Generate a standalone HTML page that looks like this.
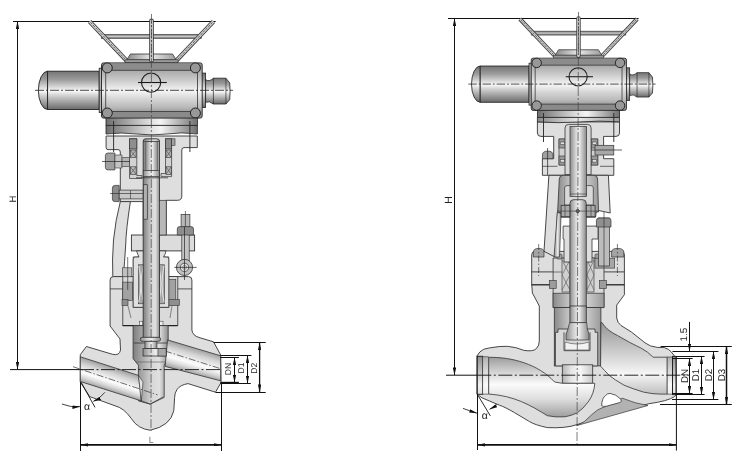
<!DOCTYPE html>
<html><head><meta charset="utf-8">
<style>
html,body{margin:0;padding:0;background:#fff;}
svg{display:block;}
text{text-rendering:geometricPrecision;}
text{font-family:"Liberation Sans",sans-serif;}
</style></head>
<body>
<svg style="will-change:transform" width="740" height="461" viewBox="0 0 740 461">
<defs>
<linearGradient id="gH" x1="0" y1="0" x2="0" y2="1">
<stop offset="0" stop-color="#767676"/><stop offset="0.22" stop-color="#9c9c9c"/><stop offset="0.46" stop-color="#e6e6e6"/><stop offset="0.52" stop-color="#f8f8f8"/><stop offset="0.62" stop-color="#d6d6d6"/><stop offset="0.8" stop-color="#a2a2a2"/><stop offset="1" stop-color="#6a6a6a"/>
</linearGradient>
<linearGradient id="gBody" x1="0" y1="0" x2="0" y2="1">
<stop offset="0" stop-color="#8c8c8c"/><stop offset="0.15" stop-color="#acacac"/><stop offset="0.3" stop-color="#c8c8c8"/><stop offset="0.47" stop-color="#ececec"/><stop offset="0.52" stop-color="#f2f2f2"/><stop offset="0.65" stop-color="#d6d6d6"/><stop offset="0.8" stop-color="#bababa"/><stop offset="0.9" stop-color="#9a9a9a"/><stop offset="1" stop-color="#888888"/>
</linearGradient>
<linearGradient id="gRim" x1="0" y1="0" x2="0" y2="1">
<stop offset="0" stop-color="#5e5e5e"/><stop offset="0.5" stop-color="#cccccc"/><stop offset="1" stop-color="#5a5a5a"/>
</linearGradient>
<linearGradient id="gV" x1="0" y1="0" x2="1" y2="0">
<stop offset="0" stop-color="#6e6e6e"/><stop offset="0.45" stop-color="#d8d8d8"/><stop offset="0.6" stop-color="#f4f4f4"/><stop offset="1" stop-color="#707070"/>
</linearGradient>
<linearGradient id="gV2" x1="0" y1="0" x2="1" y2="0">
<stop offset="0" stop-color="#8a8a8a"/><stop offset="0.5" stop-color="#e8e8e8"/><stop offset="1" stop-color="#9a9a9a"/>
</linearGradient>
<linearGradient id="gStem" x1="0" y1="0" x2="1" y2="0">
<stop offset="0" stop-color="#8c8c8c"/><stop offset="0.35" stop-color="#d6d6d6"/><stop offset="0.55" stop-color="#eeeeee"/><stop offset="1" stop-color="#8a8a8a"/>
</linearGradient>

<marker id="ah" markerUnits="userSpaceOnUse" markerWidth="8" markerHeight="3.4" refX="7.6" refY="1.7" orient="auto-start-reverse"><path d="M0,0 L8,1.7 L0,3.4 Z" fill="#111"/></marker>
<linearGradient id="gStem2" x1="0" y1="0" x2="1" y2="0">
<stop offset="0" stop-color="#7e7e7e"/><stop offset="0.25" stop-color="#a6a6a6"/><stop offset="0.55" stop-color="#d8d8d8"/><stop offset="0.75" stop-color="#e0e0e0"/><stop offset="1" stop-color="#8e8e8e"/>
</linearGradient>
<linearGradient id="gRing" x1="0" y1="0" x2="0" y2="1">
<stop offset="0" stop-color="#8e8e8e"/><stop offset="0.5" stop-color="#cfcfcf"/><stop offset="0.75" stop-color="#f2f2f2"/><stop offset="1" stop-color="#e0e0e0"/>
</linearGradient>
<linearGradient id="gRing2" x1="0" y1="0" x2="0" y2="1">
<stop offset="0" stop-color="#b0b0b0"/><stop offset="0.5" stop-color="#e4e4e4"/><stop offset="0.75" stop-color="#fafafa"/><stop offset="1" stop-color="#ececec"/>
</linearGradient>
<linearGradient id="gSeat" x1="0" y1="0" x2="1" y2="0">
<stop offset="0" stop-color="#b4b4b4"/><stop offset="0.3" stop-color="#e6e6e6"/><stop offset="0.6" stop-color="#f6f6f6"/><stop offset="1" stop-color="#c8c8c8"/>
</linearGradient>
<g id="act">
 <!-- handwheel -->
 <rect x="-50" y="-56" width="100" height="4.2" fill="url(#gRim)" stroke="#444" stroke-width="0.6"/>
 <path d="M-26.5,-30.5 H26.5" stroke="none"/>
 <g stroke-linecap="butt">
  <line x1="-61.9" y1="-68.8" x2="-24.8" y2="-29.6" stroke="#3c3c3c" stroke-width="4.4"/>
  <line x1="-61.9" y1="-68.8" x2="-24.8" y2="-29.6" stroke="#cfcfcf" stroke-width="2.6"/>
  <line x1="61.9" y1="-68.8" x2="24.8" y2="-29.6" stroke="#3c3c3c" stroke-width="4.4"/>
  <line x1="61.9" y1="-68.8" x2="24.8" y2="-29.6" stroke="#cfcfcf" stroke-width="2.6"/>
 </g>
 <path d="M-21,-36.3 H21 L24.7,-30.5 H-24.7 Z" fill="url(#gV2)" stroke="#333" stroke-width="0.8"/>
 <rect x="-26.5" y="-30.5" width="53" height="3.2" fill="#9a9a9a" stroke="#333" stroke-width="0.6"/>
 <g stroke-linecap="round">
  <line x1="0" y1="-69.5" x2="0" y2="-30" stroke="#3c3c3c" stroke-width="4.6"/>
  <line x1="0" y1="-69.5" x2="0" y2="-30" stroke="#d4d4d4" stroke-width="2.8"/>
 </g>
 <g stroke="#444" stroke-width="0.8" stroke-dasharray="2.5 1.2" fill="none">
  <line x1="-61" y1="-67.9" x2="-26" y2="-30.8"/>
  <line x1="61" y1="-67.9" x2="26" y2="-30.8"/>
  <line x1="0" y1="-69" x2="0" y2="-31"/>
 </g>
 <!-- motor -->
 <path d="M-103.9,-19.1 A9.2,19.15 0 0 0 -103.9,19.2 Z" fill="url(#gH)" stroke="#222" stroke-width="0.9"/>
 <rect x="-103.9" y="-19.1" width="51.6" height="38.3" fill="url(#gH)" stroke="#222" stroke-width="0.9"/>
 <rect x="-52.3" y="-22.1" width="2.6" height="44.3" fill="#b4b4b4" stroke="#222" stroke-width="0.8"/>
 <!-- right cap -->
 <rect x="50.2" y="-17.2" width="3.9" height="34.4" fill="url(#gH)" stroke="#222" stroke-width="0.8"/>
 <path d="M54.1,-10.7 Q57.6,-8 61.9,-12.1 H74.4 L78.2,-7.4 Q79,1 78.2,9.4 L74.4,13.7 H61.9 Q57.6,10 54.1,12.1 Z" fill="url(#gH)" stroke="#222" stroke-width="0.8"/>
 <line x1="61.9" y1="-12.1" x2="61.9" y2="13.7" stroke="#222" stroke-width="0.7"/>
 <line x1="74.4" y1="-12.1" x2="74.4" y2="13.7" stroke="#222" stroke-width="0.6"/>
 <!-- body -->
 <rect x="-50" y="-27.4" width="100.7" height="55.2" rx="2" fill="url(#gBody)" stroke="#222" stroke-width="0.9"/>
 <rect x="-44" y="-27" width="88.7" height="7" fill="#8c8c8c"/>
 <rect x="-44" y="21.2" width="88.7" height="6.2" fill="#8a8a8a"/>
 <line x1="-45" y1="-20" x2="45.7" y2="-20" stroke="#333" stroke-width="0.8"/>
 <line x1="-45" y1="21.2" x2="45.7" y2="21.2" stroke="#333" stroke-width="0.8"/>
 <line x1="-45.8" y1="-20" x2="-45.8" y2="20" stroke="#333" stroke-width="0.8"/>
 <line x1="46" y1="-20" x2="46" y2="20" stroke="#333" stroke-width="0.8"/>
 <g fill="#989898" stroke="#222" stroke-width="1">
  <circle cx="-44.2" cy="-22.4" r="5"/><circle cx="43.9" cy="-22.4" r="5"/>
  <circle cx="-44.2" cy="22.7" r="5"/><circle cx="43.9" cy="22.7" r="5"/>
 </g>
 <circle cx="-0.4" cy="-7.7" r="9.6" fill="none" stroke="#1a1a1a" stroke-width="1.1"/>
 <line x1="-13.5" y1="-7.8" x2="15.3" y2="-7.8" stroke="#1a1a1a" stroke-width="1.1"/>
 <!-- centerlines -->
 <g stroke="#222" stroke-width="0.8" stroke-dasharray="9 2 2 2" fill="none">
  <line x1="-116.5" y1="0" x2="81.5" y2="0"/>
 </g>
</g>
<g id="actfl">
 <rect x="-45.5" y="27.8" width="91.4" height="7.3" fill="url(#gV)" stroke="#222" stroke-width="0.8"/>
 <path d="M-45.5,35.1 H45.9 V43.7 Q30,41.5 15,43.7 Q0,45.5 -15,43.7 Q-30,41.8 -45.5,43.7 Z" fill="url(#gV)" stroke="#222" stroke-width="0.8"/>
</g>
</defs>

<!-- ============ LEFT VALVE ============ -->
<defs>
<linearGradient id="lBoreL" gradientUnits="userSpaceOnUse" x1="0" y1="0" x2="0" y2="1" gradientTransform="translate(110,378.65) rotate(17.7) translate(0,-11.76) scale(1,23.5)">
<stop offset="0" stop-color="#a0a0a0"/><stop offset="0.25" stop-color="#d2d2d2"/><stop offset="0.5" stop-color="#f2f2f2"/><stop offset="0.62" stop-color="#fcfcfc"/><stop offset="0.82" stop-color="#d6d6d6"/><stop offset="1" stop-color="#a4a4a4"/>
</linearGradient>
<linearGradient id="lBoreR" gradientUnits="userSpaceOnUse" x1="0" y1="0" x2="0" y2="1" gradientTransform="translate(193,360.5) rotate(16) translate(0,-12.5) scale(1,25)">
<stop offset="0" stop-color="#a0a0a0"/><stop offset="0.25" stop-color="#d2d2d2"/><stop offset="0.5" stop-color="#f2f2f2"/><stop offset="0.62" stop-color="#fcfcfc"/><stop offset="0.82" stop-color="#d6d6d6"/><stop offset="1" stop-color="#a4a4a4"/>
</linearGradient>
</defs>
<line x1="13" y1="21.5" x2="215.7" y2="21.5" stroke="#111" stroke-width="1"/>
<line x1="17.5" y1="21.5" x2="17.5" y2="369.3" stroke="#111" stroke-width="1" marker-start="url(#ah)" marker-end="url(#ah)"/>
<line x1="10" y1="369.6" x2="80" y2="369.6" stroke="#111" stroke-width="1"/>

<!-- yoke upper -->
<path d="M106.1,136 H197.3 V147.6 H184 Q181.8,147.6 181.8,150 V196 Q181.8,200.3 177.5,200.3 H166.2 V235 H143.2 V201.6 H120.3 V152 Q120.3,149.6 118,149.6 H108 Q106.1,149.6 106.1,147.6 Z" fill="#dedede" stroke="#333" stroke-width="0.9"/>
<!-- housing internals -->
<path d="M129.5,138.8 H136.8 V175.5 H141.9 V178.5 H129.5 Z" fill="#d2d2d2" stroke="#333" stroke-width="0.7"/>
<path d="M165.5,138.8 H171.6 V176.6 H161 V173.5 H165.5 Z" fill="#d2d2d2" stroke="#333" stroke-width="0.7"/>
<rect x="129.5" y="138.8" width="7.3" height="10.1" fill="#8e8e8e" stroke="#333" stroke-width="0.7"/>
<rect x="165.5" y="138.8" width="6.1" height="10.1" fill="#8e8e8e" stroke="#333" stroke-width="0.7"/>
<rect x="171.6" y="138.8" width="3.4" height="6.5" fill="#a0a0a0" stroke="#333" stroke-width="0.6"/>
<g fill="#b8b8b8" stroke="#333" stroke-width="0.6">
<rect x="130.3" y="150" width="5.8" height="7.5"/><rect x="130.3" y="166.8" width="5.8" height="7.5"/>
<rect x="166" y="150" width="5.2" height="7.5"/><rect x="166" y="166.8" width="5.2" height="7.5"/>
</g>
<g stroke="#333" stroke-width="0.5">
<path d="M130.3,150 l5.8,7.5 M136.1,150 l-5.8,7.5 M130.3,166.8 l5.8,7.5 M136.1,166.8 l-5.8,7.5 M166,150 l5.2,7.5 M171.2,150 l-5.2,7.5 M166,166.8 l5.2,7.5 M171.2,166.8 l-5.2,7.5"/>
</g>
<!-- pinion -->
<path d="M105.4,155.5 Q105.4,153 108,153 H114.9 V169.9 H108 Q105.4,169.9 105.4,167.4 Z" fill="#a0a0a0" stroke="#333" stroke-width="0.7"/>
<path d="M114.9,155 H122 V168 H114.9 Z" fill="#c4c4c4" stroke="#333" stroke-width="0.6"/>
<rect x="122" y="157.7" width="7.5" height="8.8" fill="#b4b4b4" stroke="#333" stroke-width="0.6"/>
<line x1="102" y1="161.5" x2="130" y2="161.5" stroke="#222" stroke-width="0.7"/>
<!-- left arm -->
<path d="M120.3,201.6 H130.4 Q126,230 125.7,245 Q124.5,262 123.5,276.6 H112.8 Q112,260 113.5,240 Q115.5,220 120.3,201.6 Z" fill="#dedede" stroke="#333" stroke-width="0.9"/>
<!-- bolt through yoke -->
<path d="M112.4,188 Q112.4,185.4 115,185.4 H119.2 V201.6 H115 Q112.4,201.6 112.4,199 Z" fill="#8c8c8c" stroke="#333" stroke-width="0.7"/>
<rect x="119.2" y="190.1" width="24" height="8.8" fill="#c8c8c8" stroke="#333" stroke-width="0.7"/>
<line x1="110" y1="193.5" x2="145" y2="193.5" stroke="#222" stroke-width="0.6"/>
<line x1="130.5" y1="190.1" x2="130.5" y2="198.9" stroke="#333" stroke-width="0.6"/>

<!-- body + bonnet section -->
<path d="M110.1,280 Q110.1,276.6 113.5,276.6 H188.5 Q191.9,276.6 191.9,280 V330 Q192.5,335.5 199,337.5 L213.5,341.8 L220.7,355 L221.1,382.4 L215.5,392.2 L188,383.6 Q180,385 177,389.5 Q174.6,393 174.6,397.6 L173.8,410.7 Q170.5,426 150.2,430.2 Q138,429 131.5,418.8 Q124,408 115,405.8 L89.7,396.6 L80.3,382.2 V354.7 L86.4,346.5 L112.5,354.3 Q119.5,356 120.5,350 L120,339 L110.1,326 Z" fill="#dedede" stroke="#333" stroke-width="0.9"/>
<line x1="110.1" y1="288.9" x2="125.7" y2="288.9" stroke="#333" stroke-width="0.8"/>
<line x1="177.7" y1="288.9" x2="191.9" y2="288.9" stroke="#333" stroke-width="0.8"/>

<!-- bonnet bore -->
<rect x="122.8" y="276.6" width="55" height="49" fill="#dadada" stroke="#333" stroke-width="0.8"/>
<rect x="133.2" y="257" width="35.6" height="50.3" fill="#e0e0e0" stroke="#333" stroke-width="0.7"/>
<rect x="122.8" y="282.1" width="9.6" height="18.3" fill="#a2a2a2" stroke="#333" stroke-width="0.6"/>
<rect x="122" y="299.5" width="6" height="6.1" fill="#8e8e8e" stroke="#333" stroke-width="0.6"/>
<rect x="168" y="279.5" width="7.8" height="20.9" fill="#a2a2a2" stroke="#333" stroke-width="0.6"/>
<rect x="168" y="299.5" width="11.3" height="6.1" fill="#8e8e8e" stroke="#333" stroke-width="0.6"/>
<path d="M128,306 L131,318 M172,306 L170,318" stroke="#444" stroke-width="0.6"/>
<rect x="139.3" y="321.2" width="3.5" height="4.4" fill="#f0f0f0" stroke="#333" stroke-width="0.5"/>
<rect x="159.5" y="321.2" width="3.5" height="4.4" fill="#f0f0f0" stroke="#333" stroke-width="0.5"/>
<line x1="122.8" y1="325.6" x2="177.5" y2="325.6" stroke="#222" stroke-width="1.4"/>
<!-- chamber -->
<path d="M133.1,325.6 H168.2 V358.7 L164.2,365.2 V397.4 L150.2,404.1 L138.4,400.9 V365.2 L133.1,358.7 Z" fill="url(#gStem2)" stroke="#333" stroke-width="0.8"/>
<line x1="133.8" y1="343" x2="167.9" y2="343" stroke="#333" stroke-width="0.8"/>
<line x1="136" y1="362" x2="166" y2="362" stroke="#555" stroke-width="0.6"/>
<!-- left port bore -->
<path d="M80.3,356.8 L138.5,375.4 L141.3,400.9 L80.3,381.5 Z" fill="url(#lBoreL)" stroke="#333" stroke-width="0.8"/>
<path d="M138.5,375.4 L143,382 L141.3,400.9 Z" fill="#e4e4e4" stroke="#333" stroke-width="0.6"/>
<path d="M141.3,400.9 L150.2,404.1 L163.3,396.8" fill="none" stroke="#333" stroke-width="0.7"/>
<!-- right port bore -->
<path d="M167.5,339.9 L220.6,355.8 L220.6,380.8 L165.2,366.4 Z" fill="url(#lBoreR)" stroke="#333" stroke-width="0.8"/>
<g stroke="#333" stroke-width="0.7" stroke-dasharray="7 2 1.5 2" fill="none">
<line x1="73" y1="366.7" x2="157.6" y2="394.9"/>
<line x1="165" y1="351" x2="220" y2="368.5"/>
</g>

<!-- gland flange -->
<rect x="131.4" y="235" width="63.2" height="15.9" fill="#dcdcdc" stroke="#333" stroke-width="0.9"/>
<!-- gland body -->
<path d="M133.2,307.3 V259 Q133.2,257 135.5,257 H139 Q137.5,254 136.5,250.9 H166 Q165.5,254 163.5,257 H166.5 Q168.8,257 168.8,259 V307.3 Z" fill="#e0e0e0" stroke="#333" stroke-width="0.8"/>
<rect x="138.4" y="264.8" width="5.3" height="39" fill="#a8a8a8" stroke="#333" stroke-width="0.6"/>
<rect x="158.4" y="264.8" width="6.1" height="39" fill="#a8a8a8" stroke="#333" stroke-width="0.6"/>
<path d="M138.8,266 Q143,284 138.8,302 M143.3,266 Q139,284 143.3,302 M158.8,266 Q163,284 158.8,302 M164,266 Q160,284 164,302" stroke="#e8e8e8" stroke-width="0.9" fill="none"/>
<!-- right stud + nut -->
<rect x="181.1" y="214.5" width="8.8" height="13" fill="#b8b8b8" stroke="#333" stroke-width="0.7"/>
<line x1="185.4" y1="211" x2="185.4" y2="244" stroke="#222" stroke-width="0.6"/>
<!-- eye bolt -->
<rect x="181.8" y="227" width="7.4" height="34" fill="#c4c4c4" stroke="#333" stroke-width="0.7"/>
<path d="M177.3,235 V229 Q177.3,226.6 180,226.6 H191 Q193.5,226.6 193.5,229 V235 Z" fill="#8e8e8e" stroke="#333" stroke-width="0.7"/>
<circle cx="184.5" cy="267.4" r="8.1" fill="#c0c0c0" stroke="#333" stroke-width="0.8"/>
<circle cx="184.5" cy="267.4" r="4.2" fill="#e4e4e4" stroke="#333" stroke-width="0.7"/>
<line x1="174.3" y1="267.4" x2="196.6" y2="267.4" stroke="#222" stroke-width="0.7"/>
<line x1="184.5" y1="227" x2="184.5" y2="280" stroke="#222" stroke-width="0.7"/>
<circle cx="184.5" cy="267.4" r="2" fill="none" stroke="#444" stroke-width="0.5"/>
<!-- left stud -->
<rect x="122.3" y="267.8" width="9.5" height="9" fill="#c0c0c0" stroke="#333" stroke-width="0.6"/>
<line x1="127.7" y1="257" x2="127.7" y2="290" stroke="#222" stroke-width="0.6"/>

<!-- stem -->
<path d="M143.2,337.5 V141 Q143.2,138.8 146,138.8 H156.7 Q159.5,138.8 159.5,141 V337.5 Z" fill="url(#gStem2)" stroke="#333" stroke-width="0.9"/>
<rect x="145.8" y="141.5" width="11.7" height="29" fill="url(#gStem)" stroke="#444" stroke-width="0.5"/>
<line x1="143.2" y1="141.5" x2="159.5" y2="141.5" stroke="#333" stroke-width="0.6"/>
<rect x="143.2" y="170.5" width="16.3" height="6.1" fill="url(#gStem)" stroke="#333" stroke-width="0.7"/>
<line x1="136" y1="177.8" x2="168" y2="177.8" stroke="#333" stroke-width="0.8"/>
<rect x="143.5" y="184.7" width="3.8" height="34.5" fill="#b0b0b0" stroke="#333" stroke-width="0.7"/>
<rect x="159.5" y="200.3" width="6.7" height="34.7" fill="#b8b8b8" stroke="#333" stroke-width="0.7"/>
<rect x="144.9" y="341" width="12" height="7.6" fill="url(#gStem)" stroke="#333" stroke-width="0.7"/>
<rect x="140.3" y="337.3" width="20.3" height="4" rx="1.8" fill="url(#gStem)" stroke="#333" stroke-width="0.8"/>
<rect x="143" y="348.6" width="23.1" height="7.4" fill="url(#gStem)" stroke="#333" stroke-width="0.8"/>
<rect x="158" y="348.6" width="8.1" height="7.4" fill="#a8a8a8" stroke="#333" stroke-width="0.6"/>

<!-- actuator -->
<use href="#act" transform="translate(151.5,90.3)"/>
<use href="#actfl" transform="translate(151.5,90.3)"/>
<g stroke="#222" stroke-width="0.8">
<line x1="113.6" y1="121" x2="113.6" y2="152" stroke-width="0.9"/><line x1="189.9" y1="121" x2="189.9" y2="152" stroke-width="0.9"/>
</g>
<g stroke="#222" stroke-width="0.6" stroke-dasharray="6 2 1.5 2">

</g>

<!-- vertical centerline -->
<line x1="151.5" y1="14" x2="151" y2="431" stroke="#444" stroke-width="0.7" stroke-dasharray="9 2 2 2"/>
<!-- horizontal centerline at body -->
<line x1="80" y1="369.6" x2="222" y2="369.6" stroke="#111" stroke-width="0.9" stroke-dasharray="14 2.5 2 2.5"/>

<!-- dimension lines right -->
<g stroke="#111" stroke-width="1">
<line x1="213.7" y1="342.5" x2="265.7" y2="342.5"/>
<line x1="220.4" y1="355.5" x2="251.4" y2="355.5"/>
<line x1="220.4" y1="357.5" x2="238.9" y2="357.5"/>
<line x1="220.4" y1="382.6" x2="238.9" y2="382.6" stroke-width="1.6"/>
<line x1="220.4" y1="383.5" x2="250.8" y2="383.5"/>
<line x1="215.5" y1="392.5" x2="265.7" y2="392.5"/>
<line x1="234.5" y1="357.7" x2="234.5" y2="382.2" marker-start="url(#ah)" marker-end="url(#ah)"/>
<line x1="247.5" y1="355.7" x2="247.5" y2="383.2" marker-start="url(#ah)" marker-end="url(#ah)"/>
<line x1="259.6" y1="342.8" x2="259.6" y2="392" stroke-width="1.3" marker-start="url(#ah)" marker-end="url(#ah)"/>
<line x1="80.5" y1="382" x2="80.5" y2="451"/>
<line x1="221.5" y1="382" x2="221.5" y2="451"/>
<line x1="80.8" y1="444.8" x2="221.2" y2="444.8" stroke-width="1.8" marker-start="url(#ah)" marker-end="url(#ah)"/>
<line x1="81.1" y1="382.2" x2="95" y2="407.4" stroke-width="0.9"/>
</g>
<path d="M104.9,392.3 Q100,398.5 93.4,401.3" stroke="#111" stroke-width="0.8" fill="none" marker-end="url(#ah)"/>
<path d="M61.9,404 Q70,407.5 79.9,406.6" stroke="#111" stroke-width="0.8" fill="none" marker-end="url(#ah)"/>
<g font-size="8.5" fill="#222" text-anchor="middle">
<text transform="translate(230.8,369) rotate(-90)">DN</text>
<text transform="translate(244.2,368) rotate(-90)">D1</text>
<text transform="translate(257.4,368.3) rotate(-90)">D2</text>
</g>
<text transform="translate(15.9,199) rotate(-90)" font-size="9.5" fill="#222" text-anchor="middle">H</text>
<text x="151.2" y="443.2" font-size="9" fill="#777" text-anchor="middle">L</text>
<text x="87.1" y="409.9" font-size="10.5" fill="#111" text-anchor="middle">α</text>

<!-- ============ RIGHT VALVE ============ -->
<defs>
<linearGradient id="rIn" gradientUnits="userSpaceOnUse" x1="0" y1="357" x2="0" y2="418">
<stop offset="0" stop-color="#9c9c9c"/><stop offset="0.25" stop-color="#d4d4d4"/><stop offset="0.45" stop-color="#fbfbfb"/><stop offset="0.7" stop-color="#dcdcdc"/><stop offset="1" stop-color="#9a9a9a"/>
</linearGradient>
<linearGradient id="rOut" gradientUnits="userSpaceOnUse" x1="0" y1="325" x2="0" y2="395">
<stop offset="0" stop-color="#9a9a9a"/><stop offset="0.35" stop-color="#c8c8c8"/><stop offset="0.7" stop-color="#f6f6f6"/><stop offset="1" stop-color="#bdbdbd"/>
</linearGradient>
</defs>
<line x1="448" y1="18.5" x2="638.6" y2="18.5" stroke="#111" stroke-width="1"/>
<line x1="454.5" y1="18.6" x2="454.5" y2="375" stroke="#111" stroke-width="1" marker-start="url(#ah)" marker-end="url(#ah)"/>

<!-- body + bonnet flange -->
<path d="M531.7,255 Q531.7,251.4 535,251.4 H621 Q624.4,251.4 624.4,255 V294.7 L616.7,305.1 V318.1 Q617.5,323 621,325.5 L631.4,332 L640.1,338.9 Q645,343.5 650.5,345.9 Q657,348 664.3,347.6 Q669,349 671.3,351.9 L674.7,356.3 L676.3,357 V394.6 L674.2,396.8 Q668,401 648.4,403.8 L577,424.6 Q566,428.5 547.3,427.6 Q535,425 529.5,421.6 L514.6,412.7 Q505,407 499.7,405.3 L481.9,397.8 L476.9,394 V356 L479.8,352 Q483,348.5 489.5,347.9 Q500,346 507.4,346.3 Q516,347 523.7,350.3 Q533,352 536.5,348.5 Q539.3,345.5 539.3,341 L539.3,306 L532.4,293 L531.7,284.4 Z" fill="#dedede" stroke="#333" stroke-width="0.9"/>
<g stroke="#222" stroke-width="0.8">
<line x1="531.5" y1="271.9" x2="553.1" y2="271.9"/><line x1="604" y1="271.9" x2="624.4" y2="271.9"/>
<line x1="531.5" y1="284.8" x2="551" y2="284.8" stroke-width="1.3"/><line x1="604" y1="284.8" x2="624.4" y2="284.8" stroke-width="1.3"/>
</g>
<path d="M533.4,257 V252 Q533.4,248.4 538.7,248.4 Q544,248.4 544,252 V257 Z" fill="#a4a4a4" stroke="#333" stroke-width="0.7"/>
<path d="M611.6,257 V252 Q611.6,248.4 617.7,248.4 Q623.8,248.4 623.8,252 V257 Z" fill="#a4a4a4" stroke="#333" stroke-width="0.7"/>
<g stroke="#222" stroke-width="0.6" stroke-dasharray="6 2 1.5 2">
<line x1="538.7" y1="244" x2="538.7" y2="276"/><line x1="617.4" y1="244" x2="617.4" y2="276"/>
</g>

<!-- bonnet bore / packing -->
<path d="M553.1,258 H604 V307.6 H553.1 Z" fill="#d8d8d8" stroke="#333" stroke-width="0.8"/>
<rect x="553.1" y="293.2" width="50.9" height="14.4" fill="url(#gV2)" stroke="#333" stroke-width="0.7"/>
<rect x="562" y="258" width="8" height="34" fill="#cfcfcf" stroke="#333" stroke-width="0.6"/>
<rect x="587" y="258" width="7" height="34" fill="#cfcfcf" stroke="#333" stroke-width="0.6"/>
<path d="M562,260 L570,275 L562,290 M570,260 L562,275 L570,290 M587,260 L594,275 L587,290 M594,260 L587,275 L594,290" stroke="#555" stroke-width="0.6" fill="none"/>
<rect x="557" y="254" width="5" height="5" rx="1" fill="#a0a0a0" stroke="#333" stroke-width="0.6"/>
<rect x="595" y="254" width="5" height="5" rx="1" fill="#a0a0a0" stroke="#333" stroke-width="0.6"/>
<rect x="549.3" y="280.3" width="6.9" height="8.3" fill="#9c9c9c" stroke="#333" stroke-width="0.6"/>
<rect x="599.5" y="280.3" width="6.8" height="8.3" fill="#9c9c9c" stroke="#333" stroke-width="0.6"/>
<rect x="594.9" y="258.2" width="19.8" height="9.9" fill="#a6a6a6" stroke="#333" stroke-width="0.6"/>
<line x1="553.1" y1="272" x2="562" y2="272" stroke="#333" stroke-width="0.6"/>
<!-- upper bonnet -->
<path d="M537.4,121.9 H619.5 V133 Q619.5,136.4 616,136.4 H603.6 V158.7 H613.8 V175.3 H542.4 V158.7 H553.7 V136.4 H541 Q537.4,136.4 537.4,133 Z" fill="#dedede" stroke="#333" stroke-width="0.9"/>
<line x1="542.4" y1="166.3" x2="557.5" y2="166.3" stroke="#333" stroke-width="0.7"/><line x1="600" y1="166.3" x2="613.8" y2="166.3" stroke="#333" stroke-width="0.7"/>
<path d="M559,139 H566 V165 H559 Z" fill="#d0d0d0" stroke="#333" stroke-width="0.7"/>
<path d="M591.1,139 H597.8 V165 H591.1 Z" fill="#d0d0d0" stroke="#333" stroke-width="0.7"/>
<g fill="#9a9a9a" stroke="#333" stroke-width="0.6">
<rect x="559" y="139" width="7" height="9"/><rect x="559" y="156" width="7" height="9"/>
<rect x="591.1" y="139" width="6.7" height="9"/><rect x="591.1" y="156" width="6.7" height="9"/>
</g>
<g fill="#e0e0e0" stroke="#333" stroke-width="0.5">
<rect x="560.2" y="142" width="4.6" height="2.6"/><rect x="560.2" y="159.5" width="4.6" height="2.6"/>
<rect x="592.2" y="142" width="4.5" height="2.6"/><rect x="592.2" y="159.5" width="4.5" height="2.6"/>
</g>
<!-- small bolt left & right of upper bonnet -->
<path d="M542.4,158.7 V155 Q542.4,151.1 547.7,151.1 Q553,151.1 553,155 V158.7 Z" fill="#a0a0a0" stroke="#333" stroke-width="0.7"/>
<rect x="595" y="145.3" width="18.8" height="9.7" fill="#a8a8a8" stroke="#333" stroke-width="0.7"/>
<line x1="590" y1="150" x2="622" y2="150" stroke="#222" stroke-width="0.7"/>
<g stroke="#222" stroke-width="0.7" stroke-dasharray="6 2 1.5 2">

</g>

<!-- yoke -->
<path d="M548.9,175.3 H608.4 L610.2,213 L596.4,210 L595.6,217.2 H559.8 L557.4,212.3 L555,257 L544,251.3 Z" fill="#dedede" stroke="#333" stroke-width="0.9"/>
<path d="M557.6,212.5 L559.3,179 Q559.5,175.3 563,175.3 H594 Q597.4,175.3 597.6,179 L598.5,212 Z" fill="url(#gV2)" stroke="#333" stroke-width="0.8"/>
<path d="M564.6,205 V188 Q564.6,185.6 567,185.6 H591 Q593.3,185.6 593.3,188 V205 Z" fill="#d8d8d8" stroke="#333" stroke-width="0.7"/>
<path d="M557.4,212.3 L561.1,213.5 L559.5,257 L554,257 Z" fill="url(#gV2)" stroke="#333" stroke-width="0.7"/>

<!-- stems -->
<path d="M565,174.6 V128 Q565,124.4 568.5,124.4 H587.6 Q591.1,124.4 591.1,128 V174.6 Z" fill="#d8d8d8" stroke="#333" stroke-width="0.8"/>
<rect x="570" y="126.5" width="16.5" height="70" fill="url(#gStem)" stroke="#333" stroke-width="0.7"/>
<line x1="570" y1="194" x2="586.5" y2="194" stroke="#333" stroke-width="0.6"/>

<!-- gland -->
<path d="M563.1,226.1 H598 V239 H592 V262 H564 V239 H563.1 Z" fill="#dedede" stroke="#333" stroke-width="0.8"/>
<!-- stud with nut on right -->
<rect x="598.5" y="218" width="11" height="48" fill="#bcbcbc" stroke="#333" stroke-width="0.7"/>
<path d="M596.4,220.5 Q596.4,218 599,218 H608.5 Q611,218 611,220.5 V227 H596.4 Z" fill="#909090" stroke="#333" stroke-width="0.7"/>
<line x1="604" y1="212" x2="604" y2="268" stroke="#222" stroke-width="0.6"/>
<path d="M569.9,322.6 V203.5 Q569.9,199.7 573.5,199.7 H582.7 Q586.3,199.7 586.3,203.5 V322.6 Z" fill="url(#gStem)" stroke="#333" stroke-width="0.8"/>
<rect x="561.1" y="205.3" width="8.8" height="11.4" fill="#aaaaaa" stroke="#333" stroke-width="0.8"/>
<rect x="586.3" y="205.3" width="8.8" height="11.4" fill="#aaaaaa" stroke="#333" stroke-width="0.8"/>
<g stroke="#333" stroke-width="0.6"><line x1="565" y1="205.3" x2="565" y2="216.7"/><line x1="591" y1="205.3" x2="591" y2="216.7"/><line x1="557" y1="211.1" x2="598" y2="211.1"/></g>
<circle cx="577.7" cy="211.1" r="1.7" fill="#777" stroke="#222" stroke-width="0.7"/>

<!-- lower chamber -->
<rect x="554.3" y="307.6" width="46.6" height="58.3" fill="url(#gV2)" stroke="#333" stroke-width="0.8"/>
<!-- outlet passage -->
<path d="M600.9,322.5 H601.9 Q604.5,327 608.9,330.3 Q613,333.5 617.5,335.5 L629.7,342.4 L641.8,348.5 Q648,352 652.2,356.3 L653,357.2 H667.2 V394.1 H660 Q652,394 643.5,392.1 Q633,389 624,385.2 Q614,379.4 609.4,375.5 Q604.5,370.6 600.6,366.2 Z" fill="url(#rOut)" stroke="#333" stroke-width="0.8"/>
<rect x="569.9" y="306" width="16.4" height="16.6" fill="url(#gStem)" stroke="#333" stroke-width="0.8"/>
<!-- disc -->
<path d="M555.4,365.9 V332.3 H558 V329 H569 V332.3 H587 V329 H595 V332.3 H597.7 V365.9 Z" fill="#d8d8d8" stroke="#333" stroke-width="0.8"/>
<path d="M564,332.3 V350.7 H590 V332.3" fill="none" stroke="#333" stroke-width="0.8"/>
<path d="M565,342 Q577,346 589,342 V350 H565 Z" fill="#f2f2f2" stroke="#444" stroke-width="0.6"/>
<path d="M569.6,322.6 Q568,330 566,334 V340 H589 V334 Q587,330 586.7,322.6 Z" fill="url(#gStem)" stroke="#333" stroke-width="0.7"/>
<!-- seat bore -->
<rect x="562.3" y="364.8" width="30.4" height="18.5" fill="url(#gSeat)" stroke="#333" stroke-width="0.8"/>
<!-- inlet passage -->
<path d="M488.7,357.3 C512,357 538,364 554.6,382 L562.3,383.3 H592.7 L594.8,383.3 Q594,394 588.2,401.9 Q583,409 577.3,412.8 Q572,415.5 565.1,416.8 Q556,417.5 547.3,415.7 C530,405 515,396 488.7,394 Z" fill="url(#rIn)" stroke="#333" stroke-width="0.8"/>
<!-- web -->
<path d="M576.7,425.6 L647.9,405.5 Q635,403.5 622.3,398.2 L606.5,406.2 Q601,408 597.5,410 Q592,414 584.6,421.4 Z" fill="#b2b2b2" stroke="#333" stroke-width="0.7"/>
<path d="M601.6,405.5 Q602,398 605.3,395.8 Q607,393.4 610.1,393.4 Q616,394 621.1,399.5 Q622,402 619.9,402.5 L606.5,406.2 Q603,407 601.6,405.5 Z" fill="#fff" stroke="#333" stroke-width="0.8"/>
<!-- end rings -->
<rect x="477.3" y="356.3" width="5.4" height="38" fill="url(#gRing)" stroke="#222" stroke-width="1"/>
<rect x="482.7" y="356.8" width="5.8" height="37.3" fill="url(#gRing2)" stroke="#444" stroke-width="0.7"/>
<rect x="667.2" y="357" width="5.3" height="37.1" fill="url(#gRing2)" stroke="#444" stroke-width="0.7"/>
<rect x="672.5" y="356.4" width="3.5" height="38.2" fill="url(#gRing)" stroke="#222" stroke-width="1"/>

<use href="#act" transform="translate(578.5,84.1) scale(0.946)"/>
<rect x="537.4" y="110.3" width="82.1" height="7.1" fill="url(#gV)" stroke="#222" stroke-width="0.8"/>
<path d="M537.4,117.4 H619.5 V121.9 Q600,120.3 578,122 Q558,123.4 537.4,121.9 Z" fill="url(#gV2)" stroke="#222" stroke-width="0.8"/>
<g stroke="#222" stroke-width="0.8">
<line x1="543.5" y1="113" x2="543.5" y2="142" stroke-width="0.9"/><line x1="613.8" y1="113" x2="613.8" y2="142" stroke-width="0.9"/>
<line x1="547.6" y1="148" x2="547.6" y2="175" stroke-width="0.7"/>
</g>
<g stroke="#222" stroke-width="0.6" stroke-dasharray="6 2 1.5 2">

</g>
<line x1="578.5" y1="12" x2="577" y2="444" stroke="#444" stroke-width="0.7" stroke-dasharray="9 2 2 2"/>
<line x1="446" y1="375.2" x2="477.3" y2="375.2" stroke="#111" stroke-width="1"/>
<line x1="477.3" y1="375.2" x2="690" y2="375.2" stroke="#111" stroke-width="0.9" stroke-dasharray="14 2.5 2 2.5"/>

<g stroke="#111" stroke-width="1">
<line x1="660.6" y1="346.5" x2="731.8" y2="346.5"/>
<line x1="672.5" y1="351.5" x2="718.4" y2="351.5"/>
<line x1="675.8" y1="356.5" x2="704.6" y2="356.5"/>
<line x1="672" y1="358.5" x2="692.6" y2="358.5"/>
<line x1="672" y1="393.5" x2="692.6" y2="393.5"/>
<line x1="675.8" y1="394.5" x2="704.6" y2="394.5"/>
<line x1="672" y1="399.5" x2="718.4" y2="399.5"/>
<line x1="660" y1="404.5" x2="731.8" y2="404.5"/>
<line x1="689.5" y1="321.9" x2="689.5" y2="351.2" marker-end="url(#ah)"/>
<line x1="689.5" y1="358.7" x2="689.5" y2="393.3" marker-start="url(#ah)" marker-end="url(#ah)"/>
<line x1="701.5" y1="356.7" x2="701.5" y2="394.3" marker-start="url(#ah)" marker-end="url(#ah)"/>
<line x1="713.5" y1="351.7" x2="713.5" y2="399.3" marker-start="url(#ah)" marker-end="url(#ah)"/>
<line x1="726.5" y1="346.7" x2="726.5" y2="404.3" stroke-width="1.5" marker-start="url(#ah)" marker-end="url(#ah)"/>
<line x1="477.5" y1="394" x2="477.5" y2="450"/>
<line x1="676.4" y1="394" x2="676.4" y2="450.5"/>
<line x1="477.8" y1="444.8" x2="676.2" y2="444.8" stroke-width="1.8" marker-start="url(#ah)" marker-end="url(#ah)"/>
<line x1="478.2" y1="395.8" x2="490.3" y2="415.8" stroke-width="0.9"/>
</g>
<path d="M497,404.5 Q494,407 489.6,409.3" stroke="#111" stroke-width="0.8" fill="none" marker-end="url(#ah)"/>
<path d="M463,408.4 Q470,411 476.9,413.2" stroke="#111" stroke-width="0.8" fill="none" marker-end="url(#ah)"/>
<g font-size="9.8" fill="#222" text-anchor="middle">
<text transform="translate(686.6,334.6) rotate(-90)">1.5</text>
<text transform="translate(687.6,375.9) rotate(-90)">DN</text>
<text transform="translate(698.9,375) rotate(-90)">D1</text>
<text transform="translate(712.3,375) rotate(-90)">D2</text>
<text transform="translate(724.7,375) rotate(-90)">D3</text>
</g>
<text transform="translate(452,200) rotate(-90)" font-size="10.5" fill="#222" text-anchor="middle">H</text>
<text x="484.7" y="418.6" font-size="10.5" fill="#111" text-anchor="middle">α</text>
</svg>
</body></html>
